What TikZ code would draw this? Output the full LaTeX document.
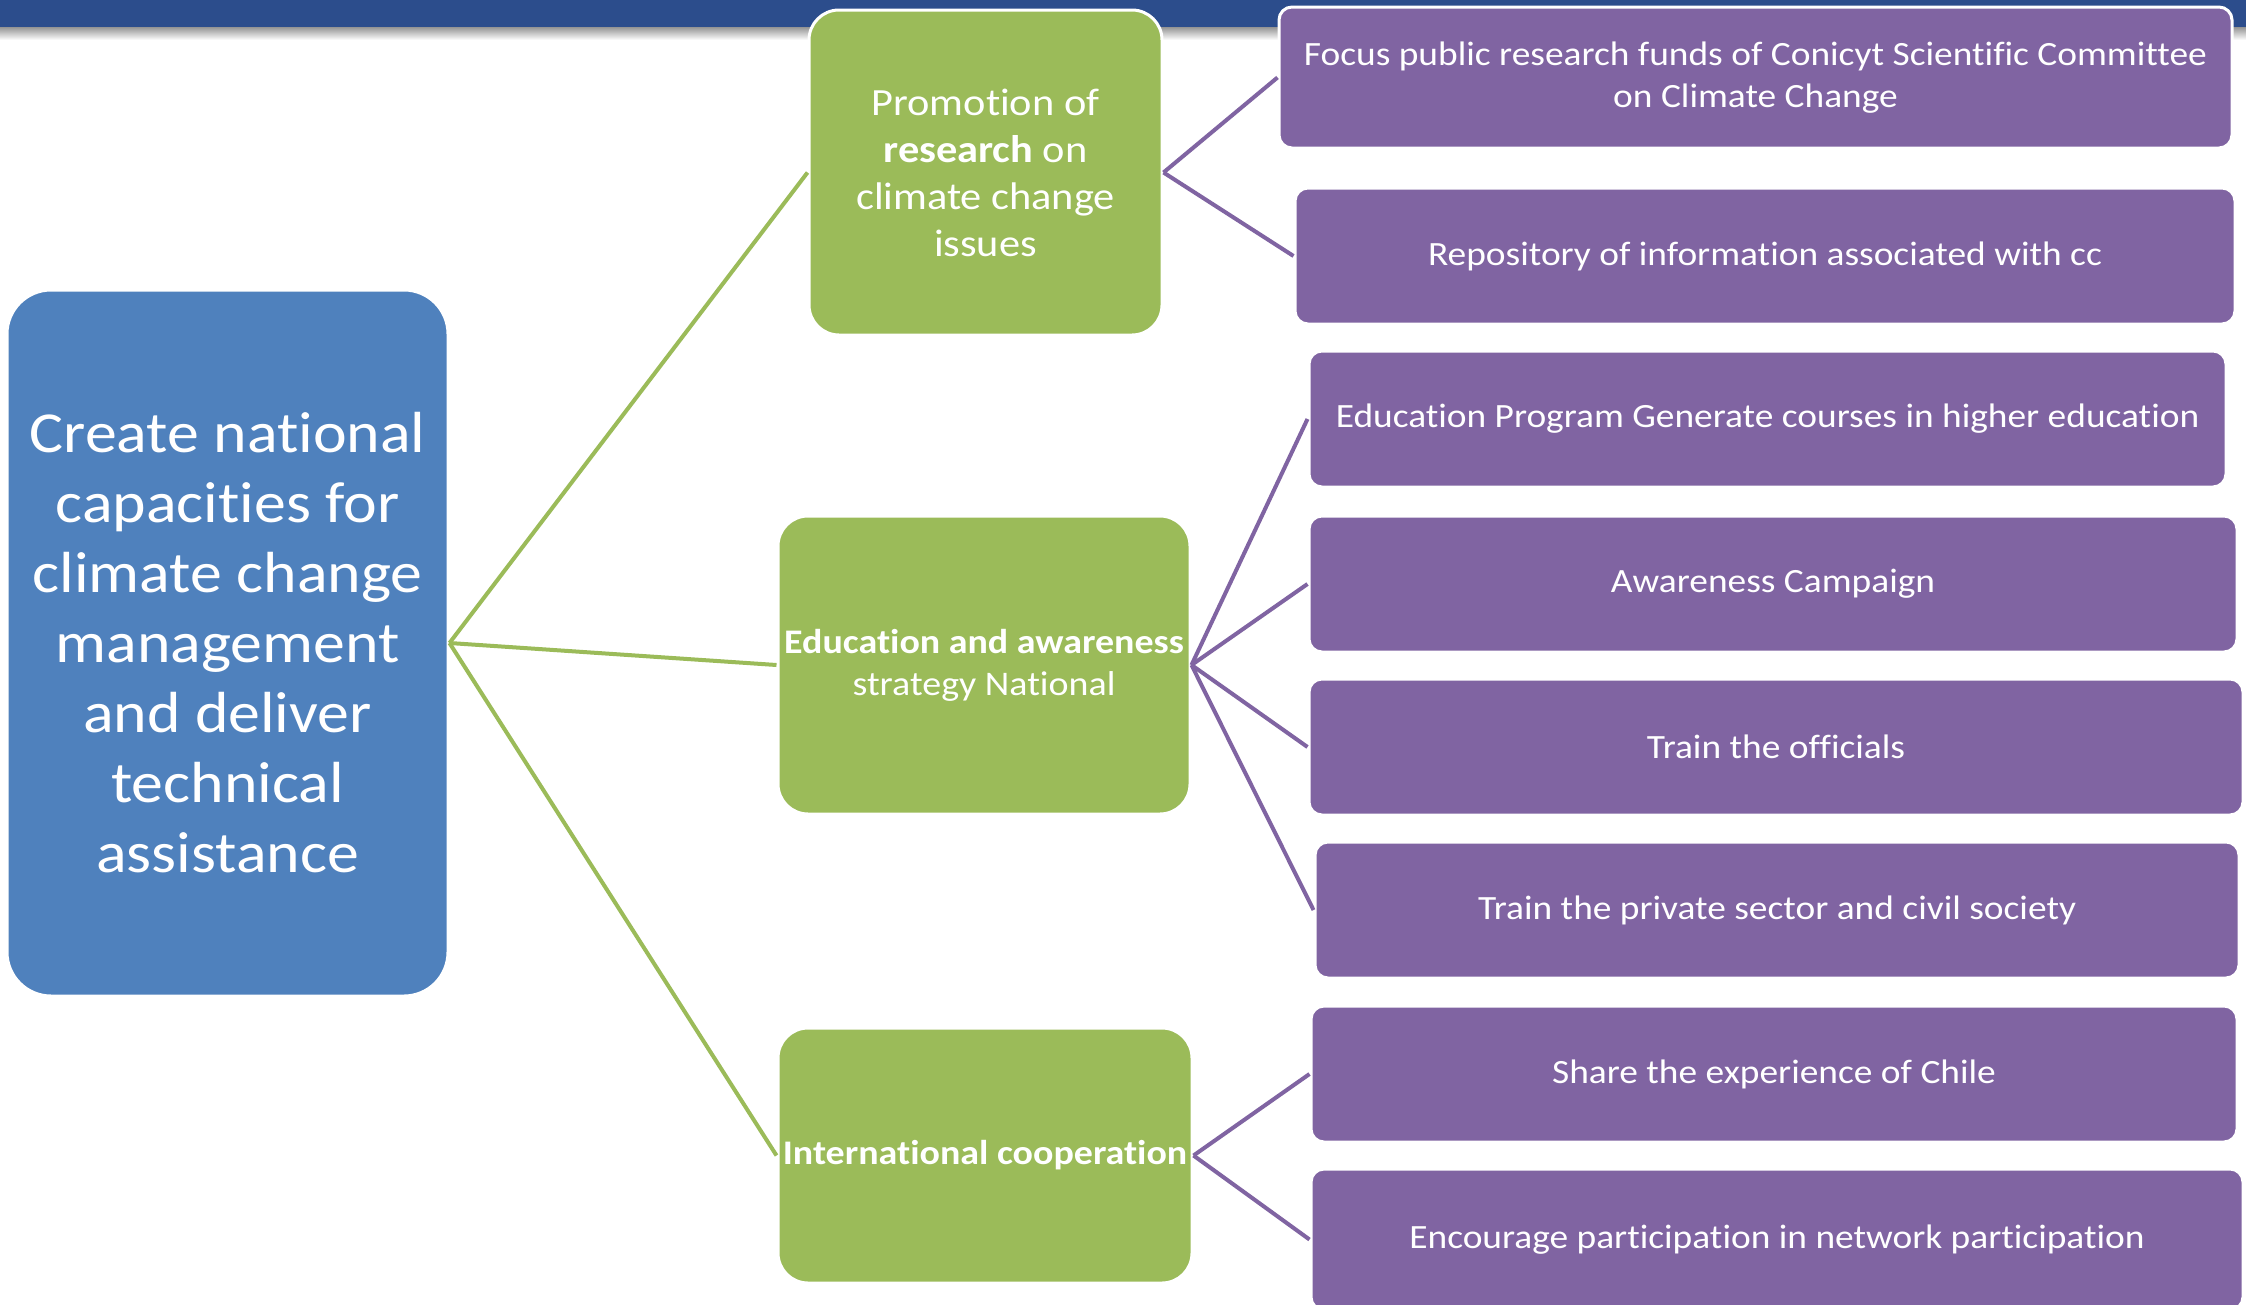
\documentclass[tikz,border=0pt]{standalone}
\usepackage{fontspec}
\setmainfont[FakeStretch=1.1, Ligatures={NoCommon}]{Carlito}
\definecolor{topbar}{HTML}{2C4D8C}
\definecolor{bluebox}{HTML}{4F81BD}
\definecolor{greenbox}{HTML}{9BBB59}
\definecolor{purplebox}{HTML}{8064A2}
\begin{document}
\begin{tikzpicture}[x=1pt,y=-1pt,
  box/.style={draw=white, line width=3pt, text=white, align=center, inner sep=0pt},
  rootbox/.style={box, fill=bluebox, rounded corners=44pt, font=\fontsize{58}{70}\selectfont},
  midbox/.style={box, fill=greenbox, rounded corners=30pt, font=\fontsize{38.5}{47}\selectfont},
  leafbox/.style={box, fill=purplebox, rounded corners=13pt, font=\fontsize{34}{42}\selectfont},
  gline/.style={draw=greenbox, line width=4pt},
  pline/.style={draw=purplebox, line width=4pt}]
\useasboundingbox (0,0) rectangle (2246,1304);
\fill[white] (0,0) rectangle (2246,1304);
% top bar
\shade[top color=black!45, bottom color=white] (0,26) rectangle (2246,40);
\fill[topbar] (0,0) rectangle (2246,27);

% nodes
\node[rootbox, minimum width=441pt, minimum height=706pt] (root) at (227.5,643)
  {Create national\\capacities for\\climate change\\management\\and deliver\\technical\\assistance};

\node[midbox, minimum width=353pt, minimum height=325pt] (res) at (985.5,172.5)
  {Promotion of\\\textbf{research} on\\climate change\\issues};
\node[midbox, minimum width=412pt, minimum height=298pt, font=\fontsize{34.5}{42}\selectfont] (edu) at (984,665)
  {\textbf{Education and awareness}\\strategy National};
\node[midbox, minimum width=414pt, minimum height=255pt, font=\fontsize{34.5}{42}\selectfont] (intl) at (985,1155.5)
  {\textbf{International cooperation}};

\node[leafbox, minimum width=953pt, minimum height=141pt] (p1) at (1755.5,77.5)
  {Focus public research funds of Conicyt Scientific Committee\\on Climate Change};
\node[leafbox, minimum width=940pt, minimum height=136pt] (p2) at (1765,256)
  {Repository of information associated with cc};
\node[leafbox, minimum width=917pt, minimum height=136pt] (p3) at (1767.5,419)
  {Education Program Generate courses in higher education};
\node[leafbox, minimum width=928pt, minimum height=136pt] (p4) at (1773,584)
  {Awareness Campaign};
\node[leafbox, minimum width=934pt, minimum height=136pt] (p5) at (1776,747)
  {Train the officials};
\node[leafbox, minimum width=924pt, minimum height=136pt] (p6) at (1777,910)
  {Train the private sector and civil society};
\node[leafbox, minimum width=926pt, minimum height=136pt] (p7) at (1774,1074)
  {Share the experience of Chile};
\node[leafbox, minimum width=932pt, minimum height=141pt] (p8) at (1777,1239.5)
  {Encourage participation in network participation};

% connectors
\draw[gline] (root.east) -- (res.west);
\draw[gline] (root.east) -- (edu.west);
\draw[gline] (root.east) -- (intl.west);
\draw[pline] (res.east) -- (p1.west);
\draw[pline] (res.east) -- (p2.west);
\draw[pline] (edu.east) -- (p3.west);
\draw[pline] (edu.east) -- (p4.west);
\draw[pline] (edu.east) -- (p5.west);
\draw[pline] (edu.east) -- (p6.west);
\draw[pline] (intl.east) -- (p7.west);
\draw[pline] (intl.east) -- (p8.west);
\end{tikzpicture}
\end{document}
